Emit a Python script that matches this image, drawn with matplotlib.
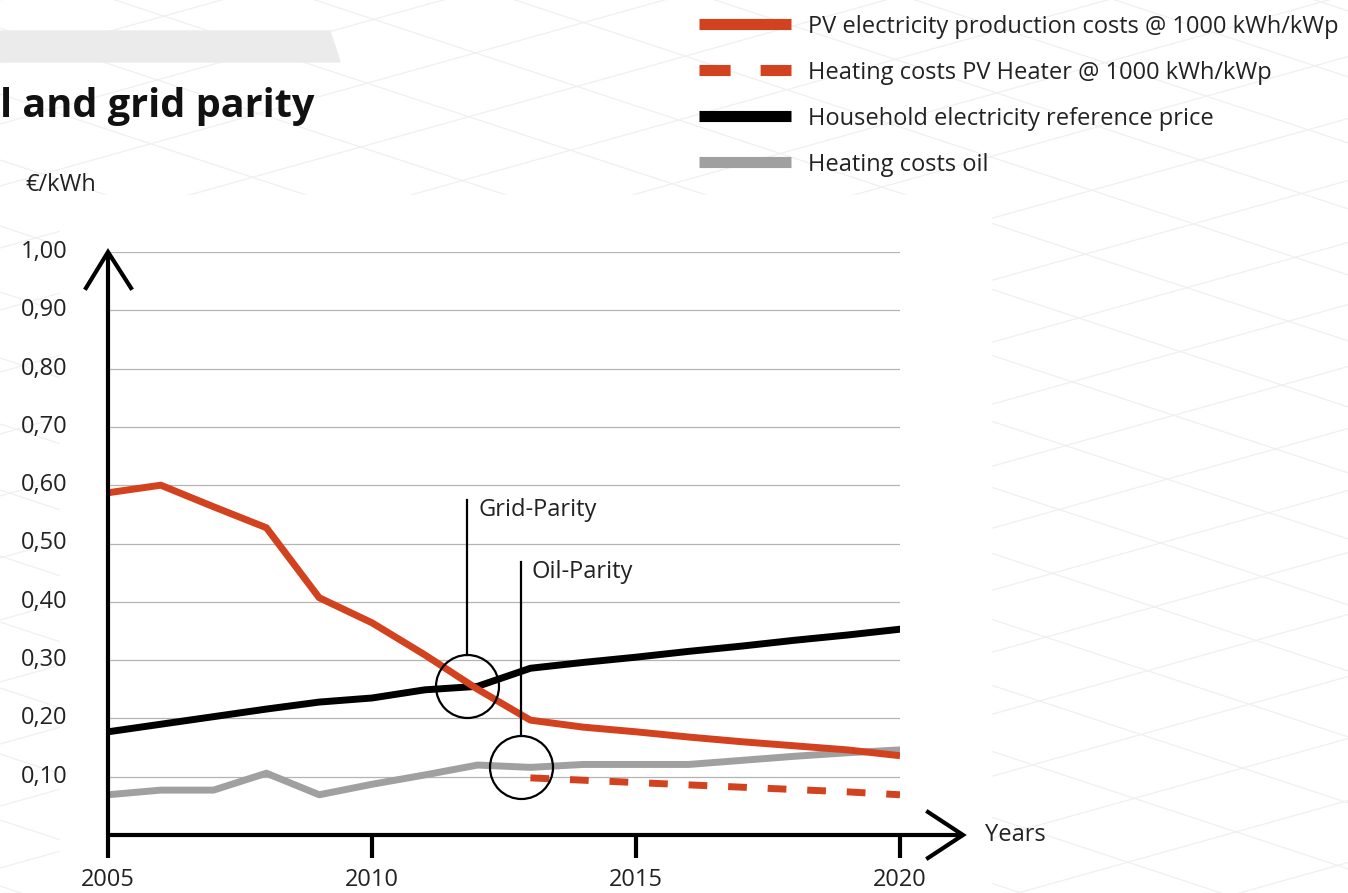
import numpy as np
import matplotlib
matplotlib.use("Agg")
import matplotlib.pyplot as plt
from matplotlib.patches import Polygon, Rectangle

plt.rcParams['font.family'] = ['Open Sans', 'DejaVu Sans']

# ---- data ----
years = [2005, 2006, 2007, 2008, 2009, 2010, 2011, 2012,
         2013, 2014, 2015, 2016, 2017, 2018, 2019, 2020]
pv_cost = [0.587, 0.600, 0.563, 0.527, 0.407, 0.364, 0.309, 0.250,
           0.197, 0.185, 0.177, 0.168, 0.160, 0.153, 0.146, 0.136]
household_price = [0.177, 0.190, 0.203, 0.216, 0.228, 0.235, 0.249, 0.255,
                   0.286, 0.296, 0.305, 0.315, 0.324, 0.334, 0.343, 0.353]
oil_heating = [0.069, 0.077, 0.077, 0.106, 0.069, 0.087, 0.103, 0.120,
               0.116, 0.121, 0.121, 0.121, 0.128, 0.135, 0.141, 0.146]
heater_years = [2013, 2014, 2015, 2016, 2017, 2018, 2019, 2020]
pv_heater = [0.098, 0.094, 0.090, 0.086, 0.082, 0.078, 0.074, 0.069]

y_ticks = [0.1, 0.2, 0.3, 0.4, 0.5, 0.6, 0.7, 0.8, 0.9, 1.0]
y_labels = ["0,10", "0,20", "0,30", "0,40", "0,50", "0,60", "0,70", "0,80", "0,90", "1,00"]
x_ticks = [2005, 2010, 2015, 2020]

grid_parity = (2011.8, 0.255)
oil_parity = (2012.82, 0.117)

labels = ["PV electricity production costs @ 1000 kWh/kWp",
          "Heating costs PV Heater @ 1000 kWh/kWp",
          "Household electricity reference price",
          "Heating costs oil"]

RED = '#d2421f'
GREY = '#a0a0a0'
TXT = '#222222'
FS = 17

W, H = 1348, 893
fig = plt.figure(figsize=(W / 100, H / 100), dpi=100)

# ---- background: faint rhombus pattern, white card, grey bar ----
bg = fig.add_axes([0, 0, 1, 1], zorder=-10)
bg.set_xlim(0, W)
bg.set_ylim(H, 0)
bg.axis('off')
xs = np.array([0, W])
for c in range(-500, H + 60, 66):
    bg.plot(xs, c + 0.33 * xs, color='#f0f0f0', lw=0.9)
for c in range(0, H + 450, 62):
    bg.plot(xs, c - 0.28 * xs, color='#f0f0f0', lw=0.9)
bg.add_patch(Rectangle((60, 195), 931, H - 195, color='white', zorder=2))
bg.add_patch(Polygon([(0, 31), (330, 31), (340, 62), (0, 62)], closed=True,
                     color='#ebebeb', zorder=3))
bg.text(0, 117, "l and grid parity", fontsize=28.5, fontweight='bold',
        ha='left', va='baseline', color='#111111', zorder=4)
bg.text(25, 185, "€/kWh", fontsize=FS, ha='left', va='center', color=TXT, zorder=4)

# legend drawn by hand (handles are thicker than the plot lines)
leg_y = [24, 70, 116, 162]
leg_styles = [dict(color=RED), dict(color=RED, dashes=(2.8, 2.7)),
              dict(color='black'), dict(color=GREY)]
for yy, lab, st in zip(leg_y, labels, leg_styles):
    bg.plot([699, 791], [yy, yy], lw=8, solid_capstyle='butt',
            dash_capstyle='butt', zorder=4, **st)
    bg.text(808, yy + 3, lab, fontsize=FS, ha='left', va='center',
            color=TXT, zorder=4)

# ---- main chart ----
ax = fig.add_axes([108 / W, (H - 835) / H, 792 / W, 583 / H])
ax.set_xlim(2005, 2020)
ax.set_ylim(0, 1)
ax.axis('off')

px = 792 / 15.0   # pixels per year
py = 583.0        # pixels per unit

for t in y_ticks:
    ax.plot([2005, 2020], [t, t], color='#b4b4b4', lw=0.9, zorder=1)

ax.plot(years, oil_heating, color=GREY, lw=5.0, zorder=3, solid_joinstyle='round')
ax.plot(years, household_price, color='black', lw=5.0, zorder=4, solid_joinstyle='round')
ax.plot(heater_years, pv_heater, color=RED, lw=5.0, dashes=(2.7, 3.0),
        dash_capstyle='butt', zorder=5)
ax.plot(years, pv_cost, color=RED, lw=5.0, zorder=5, solid_joinstyle='round',
        solid_capstyle='butt')

# axes with open arrow heads
k = dict(color='black', lw=3.0, clip_on=False, zorder=6, solid_capstyle='butt')
ax.plot([2005, 2005], [-23 / py, 1.0], **k)
ax.plot([2005, 2005 + 855 / px], [0, 0], **k)
ax.plot([2005 - 22 / px, 2005, 2005 + 23 / px], [1 - 36 / py, 1.0, 1 - 36 / py],
        color='black', lw=3.0, clip_on=False, zorder=6, solid_joinstyle='miter')
tip = 2005 + 855 / px
ax.plot([tip - 35 / px, tip, tip - 35 / px], [23 / py, 0, -23 / py],
        color='black', lw=3.0, clip_on=False, zorder=6, solid_joinstyle='miter')
for xt in x_ticks[1:]:
    ax.plot([xt, xt], [0, -23 / py], **k)

# tick labels
for t, lab in zip(y_ticks, y_labels):
    ax.text(2005 - 87 / px, t, lab, fontsize=FS, ha='left', va='center', color=TXT)
for xt in x_ticks:
    ax.text(xt, -45 / py, str(xt), fontsize=FS, ha='center', va='center', color=TXT)
ax.text(2005 + 877 / px, 0, "Years", fontsize=FS, ha='left', va='center', color=TXT)

# parity markers
r = 31.5
for (cx, cy), top, name in [(grid_parity, 0.575, "Grid-Parity"), (oil_parity, 0.468, "Oil-Parity")]:
    ax.plot([cx], [cy], 'o', ms=2 * r * 0.72, mfc='none', mec='black', mew=1.6,
            zorder=8, clip_on=False)
    ax.plot([cx, cx], [cy + r / py, top], color='black', lw=1.6, zorder=8)
    ax.text(cx + 11 / px, top - 10 / py, name, fontsize=FS, ha='left', va='center',
            color=TXT)

fig.savefig('out.png', dpi=100)
